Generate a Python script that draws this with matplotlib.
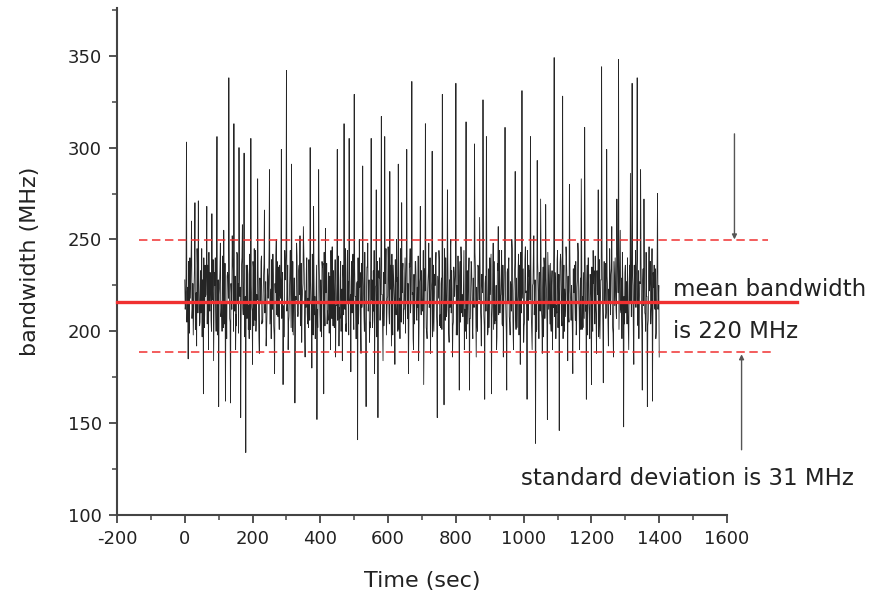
import numpy as np
import matplotlib
matplotlib.use("Agg")
import matplotlib.pyplot as plt
from matplotlib.ticker import MultipleLocator

plt.rcParams["axes.unicode_minus"] = False

# bandwidth readings on the whole 5 s marks (t = 0, 5, ..., 1400)
bw_whole = [
    228, 303, 185, 240, 260, 198, 270, 192, 271, 205,
    245, 166, 236, 268, 190, 232, 264, 184, 240, 306,
    159, 248, 200, 255, 162, 230, 338, 161, 252, 313,
    190, 242, 300, 153, 258, 297, 134, 236, 196, 305,
    182, 245, 200, 283, 188, 238, 205, 266, 192, 230,
    288, 196, 242, 177, 250, 208, 236, 299, 171, 244,
    342, 190, 232, 291, 198, 161, 248, 210, 252, 194,
    257, 186, 240, 202, 300, 180, 268, 196, 152, 288,
    200, 238, 166, 256, 204, 232, 190, 246, 212, 186,
    299, 192, 238, 184, 313, 200, 244, 305, 178, 236,
    329, 196, 141, 250, 188, 290, 200, 159, 248, 194,
    305, 206, 177, 277, 153, 240, 317, 184, 306, 198,
    246, 287, 192, 236, 182, 250, 291, 196, 270, 204,
    240, 299, 177, 245, 336, 190, 238, 206, 184, 268,
    212, 171, 313, 196, 248, 188, 298, 200, 236, 153,
    244, 202, 329, 160, 240, 277, 194, 250, 186, 232,
    335, 198, 168, 246, 208, 190, 314, 204, 168, 238,
    196, 302, 186, 236, 262, 192, 326, 163, 306, 200,
    240, 166, 248, 204, 190, 257, 210, 244, 186, 311,
    168, 236, 198, 250, 190, 287, 202, 242, 182, 331,
    194, 246, 163, 236, 306, 190, 252, 139, 293, 196,
    272, 188, 240, 269, 152, 236, 204, 190, 349, 196,
    244, 146, 238, 328, 200, 246, 184, 280, 206, 177,
    236, 198, 248, 190, 283, 202, 311, 163, 240, 196,
    171, 244, 204, 188, 277, 196, 344, 172, 236, 299,
    192, 230, 257, 186, 240, 272, 348, 255, 196, 148,
    236, 204, 190, 286, 335, 182, 244, 338, 196, 288,
    168, 272, 200, 159, 246, 204, 162, 236, 196, 275, 186,
]
# readings half way between them (t = 2.5, 7.5, ..., 1397.5)
bw_half = [
    215, 222, 208, 230, 212, 226, 205, 234, 218, 210,
    228, 202, 220, 236, 214, 206, 225, 232, 200, 218,
    224, 210, 238, 204, 216, 229, 207, 221, 233, 211,
    203, 226, 219, 236, 209, 215, 231, 201, 224, 213,
    235, 206, 220, 212, 228, 204, 230, 217, 209, 225,
    214, 232, 203, 221, 238, 210, 218, 227, 205, 233,
    216, 208, 224, 200, 229, 219, 212, 236, 206, 222,
    231, 213, 204, 226, 217, 235, 209, 220, 202, 228,
    215, 237, 211, 223, 206, 230, 218, 203, 225, 214,
    234, 207, 221, 229, 212, 200, 227, 216, 238, 209,
    219, 226, 204, 232, 213, 222, 208, 235, 217, 202,
    228, 211, 224, 206, 233, 215, 220, 203, 230, 218,
    210, 236, 205, 223, 214, 229, 201, 219, 232, 212,
    225, 207, 237, 216, 221, 204, 230, 213, 226, 209,
    218, 234, 202, 227, 215, 222, 206, 231, 211, 224,
    203, 229, 217, 236, 208, 220, 213, 233, 205, 226,
    214, 221, 238, 210, 227, 200, 219, 232, 207, 223,
    216, 235, 204, 228, 212, 225, 209, 230, 218, 202,
    231, 213, 222, 206, 237, 215, 220, 203, 226, 211,
    234, 208, 224, 217, 229, 201, 219, 236, 212, 227,
    205, 222, 214, 233, 209, 226, 216, 200, 230, 218,
    211, 235, 207, 221, 228, 204, 225, 213, 232, 210,
    219, 237, 203, 227, 215, 230, 208, 222, 214, 234,
    206, 224, 217, 229, 201, 220, 211, 236, 216, 226,
    209, 233, 213, 222, 205, 228, 218, 238, 207, 224,
    215, 231, 202, 226, 212, 235, 219, 210, 229, 204,
    221, 214, 236, 208, 225, 216, 230, 203, 227, 213,
    234, 210, 219, 206, 228, 215, 232, 212, 222, 217,
]
# readings in between those (t = 1.25, 3.75, ..., 1398.75)
bw_quarter = [
    212, 231, 205, 224, 238, 199, 218, 242, 207, 226, 214, 236, 201, 221, 245, 210, 229, 203, 233, 216,
    197, 227, 240, 209, 219, 235, 204, 222, 243, 211, 230, 200, 217, 239, 206, 225, 213, 244, 198, 228,
    220, 234, 208, 215, 241, 202, 223, 237, 210, 196, 232, 218, 245, 205, 226, 212, 239, 200, 221, 230,
    209, 243, 216, 199, 235, 224, 204, 240, 213, 228, 197, 219, 236, 207, 231, 214, 242, 201, 225, 211,
    238, 203, 222, 244, 208, 217, 233, 196, 229, 215, 241, 206, 220, 237, 210, 227, 199, 234, 218, 245,
    204, 223, 239, 212, 230, 198, 226, 242, 209, 216, 235, 201, 221, 240, 207, 232, 214, 197, 228, 243,
    211, 236, 205, 219, 244, 202, 225, 238, 213, 229, 196, 217, 241, 208, 233, 220, 203, 237, 215, 226,
    245, 200, 222, 234, 210, 218, 239, 206, 227, 214, 242, 198, 231, 219, 204, 236, 212, 224, 240, 209,
    228, 197, 235, 216, 243, 203, 221, 237, 211, 230, 199, 225, 244, 207, 218, 233, 202, 239, 214, 226,
    206, 241, 213, 229, 200, 223, 236, 209, 217, 245, 204, 232, 215, 198, 238, 220, 227, 210, 242, 201,
    234, 219, 196, 227, 240, 212, 224, 203, 237, 216, 230, 208, 243, 199, 222, 235, 211, 228, 205, 239,
    217, 202, 233, 244, 210, 225, 197, 238, 214, 229, 206, 241, 220, 201, 232, 213, 226, 245, 207, 219,
    236, 204, 223, 211, 242, 198, 230, 215, 239, 209, 227, 200, 234, 218, 245, 205, 221, 237, 212, 228,
    199, 240, 216, 226, 203, 235, 210, 243, 220, 196, 231, 214, 238, 207, 224, 241, 202, 229, 217, 233,
    211, 244, 205, 222, 237, 200, 219, 232, 213, 240, 208, 227, 197, 236, 215, 225, 243, 204, 230, 218,
    239, 209, 226, 201, 234, 216, 245, 206, 221, 212, 238, 199, 228, 242, 210, 223, 203, 235, 219, 231,
    198, 225, 241, 214, 230, 205, 237, 220, 208, 244, 212, 227, 196, 233, 218, 240, 207, 222, 236, 202,
    229, 213, 243, 210, 224, 200, 235, 217, 239, 206, 231, 221, 245, 203, 226, 211, 237, 198, 234, 215,
    220, 242, 207, 228, 201, 238, 214, 225, 197, 233, 209, 244, 219, 230, 204, 236, 212, 241, 223, 199,
    232, 216, 240, 205, 227, 211, 245, 200, 222, 237, 208, 229, 214, 235, 198, 226, 243, 210, 218, 234,
    203, 239, 221, 213, 244, 206, 230, 217, 236, 199, 225, 242, 209, 228, 215, 201, 238, 220, 232, 211,
    241, 207, 224, 197, 235, 218, 229, 204, 243, 212, 221, 237, 200, 233, 216, 245, 208, 226, 214, 239,
    202, 231, 219, 242, 210, 227, 196, 236, 223, 208, 240, 213, 230, 205, 244, 217, 225, 199, 234, 221,
    215, 238, 204, 228, 243, 211, 222, 201, 237, 219, 232, 207, 245, 214, 226, 198, 240, 209, 231, 218,
    235, 200, 226, 213, 241, 206, 233, 220, 197, 239, 212, 228, 244, 203, 224, 216, 237, 210, 230, 205,
    223, 245, 209, 234, 218, 199, 238, 214, 227, 207, 242, 221, 201, 236, 212, 229, 243, 206, 219, 232,
    210, 227, 240, 202, 225, 216, 244, 208, 231, 198, 236, 220, 213, 239, 204, 233, 217, 226, 241, 200,
    228, 214, 235, 209, 243, 219, 203, 230, 222, 238, 211, 245, 206, 224, 215, 234, 199, 237, 212, 225,
]

time_sec = np.arange(0, 1400.01, 1.25)
bandwidth = np.empty(len(time_sec))
bandwidth[0::4] = bw_whole
bandwidth[2::4] = bw_half
bandwidth[1::2] = bw_quarter

# reference levels as drawn
mean_level = 216
upper_level = 249.5
lower_level = 189

RED = "#f03030"
TXT = "#222222"
AXC = "#444444"

fig = plt.figure(figsize=(8.89, 6.02), dpi=100)
ax = fig.add_axes([117 / 889, 1 - 515 / 602, (727 - 117) / 889, (515 - 8) / 602])

ax.plot(time_sec, bandwidth, color="#252525", lw=0.6, zorder=2)

# mean and +/- std lines (run past the axis end)
ax.plot([-200, 1808], [mean_level, mean_level], color=RED, lw=2.4, clip_on=False, zorder=3)
ax.plot([-135, 1720], [upper_level, upper_level], color=RED, lw=1.1,
        ls=(0, (5.5, 3)), clip_on=False, zorder=3)
ax.plot([-135, 1730], [lower_level, lower_level], color=RED, lw=1.1,
        ls=(0, (5.5, 3)), clip_on=False, zorder=3)

arr = dict(arrowstyle="-|>", color="#555555", lw=1.0, mutation_scale=7)
ax.annotate("", xy=(1622, upper_level - 1), xytext=(1622, 309), arrowprops=arr,
            annotation_clip=False)
ax.annotate("", xy=(1643, lower_level), xytext=(1643, 134), arrowprops=arr,
            annotation_clip=False)

ax.text(1440, 222.5, "mean bandwidth", fontsize=16.5, color=TXT, va="center")
ax.text(1440, 200, "is 220 MHz", fontsize=16.5, color=TXT, va="center")
ax.text(991, 120, "standard deviation is 31 MHz", fontsize=16.5, color=TXT, va="center")

ax.set_xlim(-200, 1600)
ax.set_ylim(100, 376)
ax.xaxis.set_major_locator(MultipleLocator(200))
ax.xaxis.set_minor_locator(MultipleLocator(100))
ax.yaxis.set_major_locator(MultipleLocator(50))
ax.yaxis.set_minor_locator(MultipleLocator(25))

for s in ("top", "right"):
    ax.spines[s].set_visible(False)
for s in ("left", "bottom"):
    ax.spines[s].set_color(AXC)
    ax.spines[s].set_linewidth(1.5)
ax.tick_params(which="major", direction="out", length=6, width=1.3, color=AXC,
               labelsize=13, labelcolor=TXT, pad=5)
ax.tick_params(which="minor", direction="out", length=3.5, width=1.1, color=AXC)

ax.set_xlabel("Time (sec)", fontsize=16, color=TXT, labelpad=16)
ax.set_ylabel("bandwidth (MHz)", fontsize=16, color=TXT, labelpad=20)

fig.savefig("out.png", dpi=100, facecolor="white")
